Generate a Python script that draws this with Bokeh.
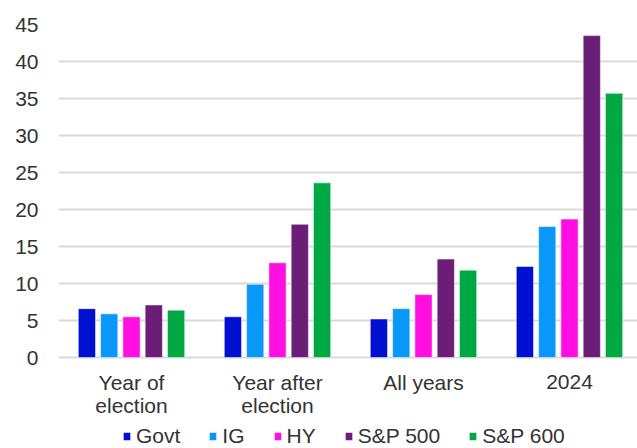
from bokeh.plotting import figure
from bokeh.models import Range1d, FixedTicker, Legend, LegendItem, ColumnDataSource
from bokeh.core.properties import value
from bokeh.embed import file_html
from bokeh.resources import INLINE

categories = ["Year of\nelection", "Year after\nelection", "All years", "2024"]
series = ["Govt", "IG", "HY", "S&P 500", "S&P 600"]
govt = [6.6, 5.5, 5.2, 12.3]
ig = [5.9, 9.9, 6.6, 17.7]
hy = [5.5, 12.8, 8.5, 18.7]
sp500 = [7.1, 18.0, 13.3, 43.5]
sp600 = [6.4, 23.6, 11.8, 35.7]
colors = ["#0010D0", "#0A98F8", "#FF10E0", "#6A1E78", "#00A843"]
y_ticks = [0, 5, 10, 15, 20, 25, 30, 35, 40, 45]

FONT = "Liberation Sans"
TXT = "#333333"
FS = "21px"

# layout constants (pixels)
FRAME_W, FRAME_H = 579, 424
PX_PER_UNIT_Y = 333 / 45      # 0..45 spans 333 px
PX_PER_CAT = 146
Y_LOW = -(91 / PX_PER_UNIT_Y)  # room below the baseline for labels + legend
LINE1_Y = -(24.5 / PX_PER_UNIT_Y)
LINE2_Y = -(47.5 / PX_PER_UNIT_Y)

p = figure(frame_width=FRAME_W, frame_height=FRAME_H, output_backend="svg", toolbar_location=None,
           x_range=Range1d(0, FRAME_W / PX_PER_CAT), y_range=Range1d(Y_LOW, 45),
           min_border_left=58, min_border_right=0, min_border_top=24, min_border_bottom=0)
p.outline_line_color = None
p.background_fill_color = "white"
p.border_fill_color = "white"

centers = [i + 0.5 for i in range(len(categories))]
pitch = 0.1527
bw = 0.118
items = []
for k, (name, vals) in enumerate(zip(series, [govt, ig, hy, sp500, sp600])):
    xs = [c + (k - 2) * pitch for c in centers]
    src = ColumnDataSource(dict(x=xs, top=vals))
    r = p.vbar(x="x", top="top", bottom=0, width=bw, source=src,
               fill_color=colors[k], line_color="white", line_alpha=0.5, line_width=1)
    items.append(LegendItem(label=name, renderers=[r]))

# category labels under the baseline (one text glyph per line)
first = [c.split("\n")[0] for c in categories]
second = [c.split("\n")[1] if "\n" in c else "" for c in categories]
for lines, yy in ((first, LINE1_Y), (second, LINE2_Y)):
    lab_src = ColumnDataSource(dict(x=centers, y=[yy] * len(centers), text=lines))
    p.text(x="x", y="y", text="text", source=lab_src, text_align="center", text_baseline="middle",
           text_font=value(FONT), text_font_size=FS, text_color=TXT)

p.xaxis.visible = False

p.yaxis.ticker = FixedTicker(ticks=y_ticks)
p.yaxis.major_tick_line_color = None
p.yaxis.minor_tick_line_color = None
p.yaxis.major_tick_out = 0
p.yaxis.major_tick_in = 0
p.yaxis.axis_line_color = None
p.yaxis.major_label_text_font = FONT
p.yaxis.major_label_text_font_size = FS
p.yaxis.major_label_text_color = TXT
p.yaxis.major_label_standoff = 20

p.xgrid.grid_line_color = None
p.ygrid.grid_line_color = "#d9d9d9"
p.ygrid.grid_line_width = 2

legend = Legend(items=items, orientation="horizontal", location=(64, 0),
                label_text_font=FONT, label_text_font_size=FS, label_text_color=TXT,
                glyph_width=9, glyph_height=10, label_standoff=5, spacing=28,
                label_height=18, padding=0, margin=0,
                border_line_color=None, background_fill_alpha=0)
p.add_layout(legend, "center")

open("out.html", "w").write(file_html(p, INLINE))
